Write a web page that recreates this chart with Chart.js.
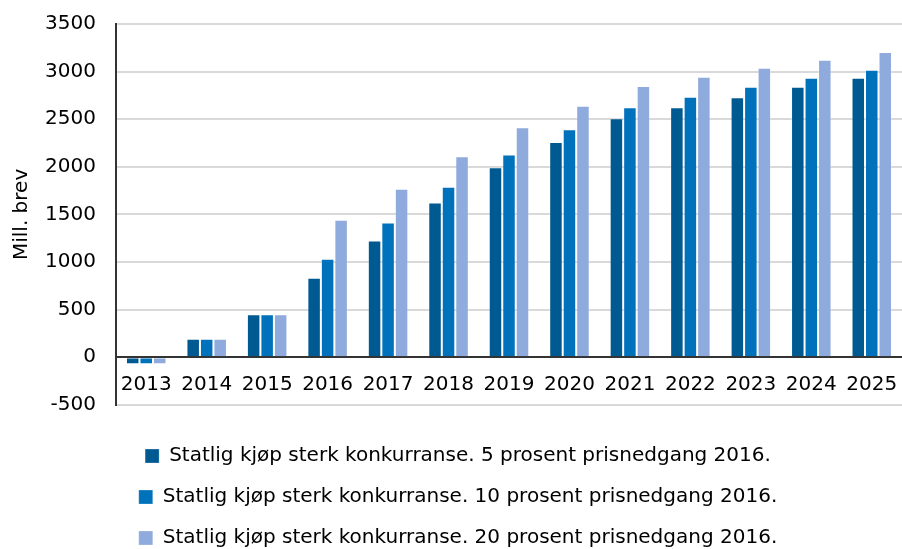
<!DOCTYPE html>
<html>
<head>
<meta charset="utf-8">
<script src="https://cdn.jsdelivr.net/npm/chart.js@4/dist/chart.umd.min.js"></script>
<style>
  html, body { margin: 0; padding: 0; background: #fff; overflow: hidden; }
  #wrap { width: 902px; height: 549px; }
</style>
</head>
<body>
<div id="wrap"><canvas id="brevChart"></canvas></div>
<script>
// Data (Mill. brev)
const years = ["2013", "2014", "2015", "2016", "2017", "2018", "2019", "2020", "2021", "2022", "2023", "2024", "2025"];
const pris5 = [-75, 195, 450, 835, 1225, 1625, 1995, 2260, 2510, 2625, 2730, 2840, 2935];
const pris10 = [-75, 195, 450, 1035, 1415, 1790, 2130, 2395, 2625, 2735, 2840, 2935, 3020];
const pris20 = [-75, 195, 450, 1445, 1770, 2110, 2415, 2640, 2850, 2945, 3040, 3125, 3205];
const seriesNames = [
    "Statlig kjøp sterk konkurranse. 5 prosent prisnedgang 2016.",
    "Statlig kjøp sterk konkurranse. 10 prosent prisnedgang 2016.",
    "Statlig kjøp sterk konkurranse. 20 prosent prisnedgang 2016.",
];
const colors = ["#005A92", "#0072BC", "#8FAADC"];

const font = "'DejaVu Sans', sans-serif";

document.addEventListener("DOMContentLoaded", function () {
    const ctx = document.getElementById("brevChart").getContext("2d");
    const sets = [pris5, pris10, pris20].map(function (vals, i) {
        return {
            label: seriesNames[i],
            data: vals,
            backgroundColor: colors[i],
            borderColor: "rgba(255,255,255,0.25)",
            borderWidth: 1,
            categoryPercentage: 0.67,
            barPercentage: 1.0,
        };
    });

    new Chart(ctx, {
        type: "bar",
        data: { labels: years, datasets: sets },
        options: {
            responsive: true,
            maintainAspectRatio: false,
            animation: false,
            layout: { padding: { top: 24, right: 0, left: 14, bottom: -9 } },
            plugins: {
                tooltip: { enabled: false },
                legend: {
                    position: "bottom",
                    align: "center",
                    title: { display: true, text: " ", font: { size: 1 }, padding: { top: 10, bottom: 9 } },
                    labels: {
                        color: "#000",
                        font: { family: font, size: 20 },
                        boxWidth: 14,
                        boxHeight: 14,
                        padding: 21,
                    },
                },
            },
            scales: {
                x: {
                    position: { y: 0 },
                    // invisible tick marks keep the labels off the zero line
                    grid: { display: false, drawTicks: true, tickLength: 13, tickColor: "rgba(0,0,0,0)" },
                    border: { display: true, color: "#333", width: 2 },
                    ticks: { color: "#000", font: { family: font, size: 20 }, padding: 3, maxRotation: 0 },
                },
                y: {
                    min: -500,
                    max: 3500,
                    ticks: {
                        stepSize: 500,
                        color: "#000",
                        font: { family: font, size: 20 },
                        padding: 3,
                        callback: function (v) { return String(v); },
                    },
                    grid: { color: "#d9d9d9", lineWidth: 2, drawTicks: true, tickLength: 17, tickColor: "rgba(0,0,0,0)" },
                    border: { display: true, color: "#333", width: 2 },
                    title: { display: true, text: "Mill. brev", color: "#000", font: { family: font, size: 20 }, padding: { top: -4, bottom: 0 } },
                    afterFit: function (scale) { scale.width = 102; },
                },
            },
        },
    });
});
</script>
</body>
</html>
